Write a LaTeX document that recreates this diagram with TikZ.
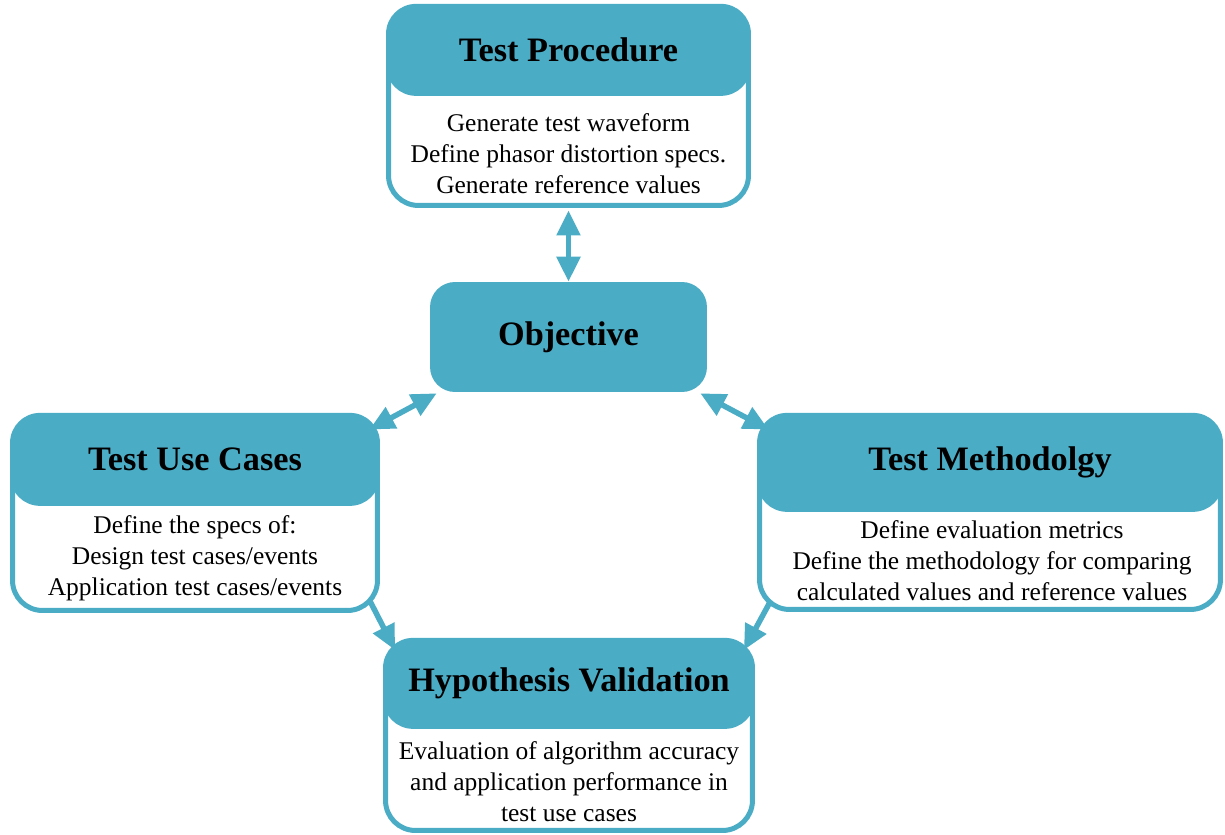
\documentclass[tikz,border=0pt]{standalone}
\usepackage{fontspec}
\setmainfont{Liberation Serif}
\usetikzlibrary{arrows.meta}
\definecolor{panelteal}{HTML}{4BACC6}

\begin{document}
\begin{tikzpicture}[x=0.02cm,y=-0.02cm,
  panel/.style={draw=panelteal, line width=0.1cm, fill=white, rounded corners=0.6cm, inner sep=0},
  header/.style={fill=panelteal, rounded corners=0.6cm, inner sep=0, anchor=north,
    font=\bfseries\fontsize{19.5}{23}\selectfont},
  body/.style={font=\fontsize{14.5}{17.6}\selectfont, align=center, inner sep=0},
  link/.style={draw=panelteal, line width=0.11cm, -{Triangle[length=0.5cm,width=0.46cm]}},
  dlink/.style={draw=panelteal, line width=0.11cm,
    {Triangle[length=0.5cm,width=0.46cm]}-{Triangle[length=0.5cm,width=0.46cm]}}
]
\useasboundingbox (0,0) rectangle (1225,835);

% Test Procedure
\node[panel, minimum width=7.2cm, minimum height=3.94cm] (tp) at (568.5,107) {};
\node[header, minimum width=7.3cm, minimum height=1.84cm] (tph) at ([yshift=0.05cm]tp.north) {Test Procedure};
\node[body] (tpb) at (568.5,154) {Generate test waveform\\Define phasor distortion specs.\\Generate reference values};

% Objective
\node[fill=panelteal, rounded corners=0.5cm, minimum width=5.54cm, minimum height=2.2cm,
  inner sep=0, font=\bfseries\fontsize{19.5}{23}\selectfont] (obj) at (568.5,337) {Objective};

% Test Use Cases
\node[panel, minimum width=7.3cm, minimum height=3.86cm] (tuc) at (195,514) {};
\node[header, minimum width=7.4cm, minimum height=1.86cm] (tuch) at ([yshift=0.05cm]tuc.north) {Test Use Cases};
\node[body] (tucb) at (195,558) {Define the specs of:\\Design test cases/events\\Application test cases/events};

% Test Methodology
\node[panel, minimum width=9.22cm, minimum height=3.84cm] (tm) at (990,513.5) {};
\node[header, minimum width=9.32cm, minimum height=1.98cm] (tmh) at ([yshift=0.05cm]tm.north) {Test Methodolgy};
\node[body] (tmb) at (992,561) {Define evaluation metrics\\Define the methodology for comparing\\calculated values and reference values};

% Hypothesis Validation
\node[panel, minimum width=7.34cm, minimum height=3.76cm] (hv) at (569,736.5) {};
\node[header, minimum width=7.44cm, minimum height=1.82cm] (hvh) at ([yshift=0.05cm]hv.north) {Hypothesis Validation};
\node[body] (hvb) at (569,782) {Evaluation of algorithm accuracy\\and application performance in\\test use cases};

% Connectors
\draw[dlink] ([yshift=-0.05cm]tp.south) -- (obj.north);
\draw[dlink] ([shift={(7,1)}]obj.south west) -- ([shift={(-10.5,14.5)}]tuc.north east);
\draw[dlink] ([shift={(-7,1)}]obj.south east) -- ([shift={(11.5,14.5)}]tm.north west);
\draw[link] ([shift={(-10,-12)}]tuc.south east) -- ([shift={(12,10)}]hv.north west);
\draw[link] ([shift={(13,-10)}]tm.south west) -- ([shift={(-11,10)}]hv.north east);
\end{tikzpicture}
\end{document}
